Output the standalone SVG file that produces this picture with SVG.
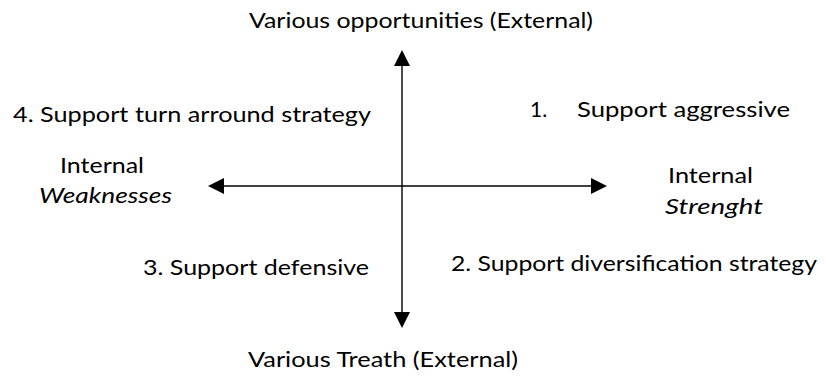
<svg xmlns="http://www.w3.org/2000/svg" width="826" height="380" viewBox="0 0 826 380">
  <style>
    .lbl { font-family: Lato, "Open Sans", "Liberation Sans", sans-serif; font-size: 21px; fill: #000; }
    .it { font-style: italic; }
    .axis { stroke: #000; stroke-width: 1.4; fill: none; }
  </style>
  <defs>
    <marker id="head" viewBox="0 0 16 16" refX="0" refY="8" markerWidth="16" markerHeight="16" markerUnits="userSpaceOnUse" orient="auto">
      <path d="M0,0 L16,8 L0,16 Z" fill="#000"/>
    </marker>
  </defs>
  <rect width="826" height="380" fill="#fff"/>

  <!-- axes -->
  <g id="connectors">
    <line class="axis" x1="402" y1="186" x2="402" y2="66" marker-end="url(#head)"/>
    <line class="axis" x1="402" y1="186" x2="402" y2="312" marker-end="url(#head)"/>
    <line class="axis" x1="402" y1="186" x2="224" y2="186" marker-end="url(#head)"/>
    <line class="axis" x1="402" y1="186" x2="591" y2="186" marker-end="url(#head)"/>
  </g>

  <g id="external-opportunities">
    <text class="lbl" x="249" y="28" textLength="344" lengthAdjust="spacingAndGlyphs">Various opportunities (External)</text>
  </g>
  <g id="external-threats">
    <text class="lbl" x="248" y="367" textLength="270" lengthAdjust="spacingAndGlyphs">Various Treath (External)</text>
  </g>
  <g id="internal-weaknesses">
    <text class="lbl" x="60" y="173" textLength="84" lengthAdjust="spacingAndGlyphs">Internal</text>
    <text class="lbl it" x="39" y="203" textLength="133" lengthAdjust="spacingAndGlyphs">Weaknesses</text>
  </g>
  <g id="internal-strength">
    <text class="lbl" x="668" y="183" textLength="85" lengthAdjust="spacingAndGlyphs">Internal</text>
    <text class="lbl it" x="665" y="214" textLength="98" lengthAdjust="spacingAndGlyphs">Strenght</text>
  </g>
  <g id="quadrant-1">
    <text class="lbl" x="530" y="117">1.</text>
    <text class="lbl" x="577" y="117" textLength="213" lengthAdjust="spacingAndGlyphs">Support aggressive</text>
  </g>
  <g id="quadrant-2">
    <text class="lbl" x="451" y="271" textLength="366" lengthAdjust="spacingAndGlyphs">2. Support diversification strategy</text>
  </g>
  <g id="quadrant-3">
    <text class="lbl" x="143" y="275" textLength="226" lengthAdjust="spacingAndGlyphs">3. Support defensive</text>
  </g>
  <g id="quadrant-4">
    <text class="lbl" x="13" y="122" textLength="358" lengthAdjust="spacingAndGlyphs">4. Support turn arround strategy</text>
  </g>
</svg>
